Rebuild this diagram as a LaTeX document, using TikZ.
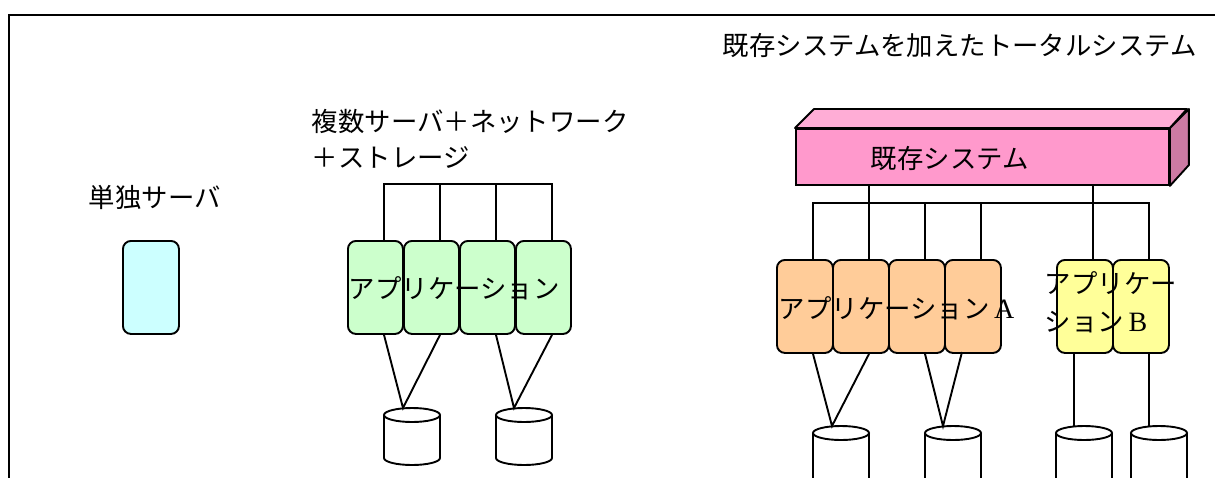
\documentclass[tikz,border=0pt]{standalone}
\usepackage{fontspec}
\newfontfamily\jp{Noto Sans CJK JP}
\newfontfamily\lat{Liberation Serif}
\definecolor{cyanF}{HTML}{CCFFFF}
\definecolor{greenF}{HTML}{CCFFCC}
\definecolor{orangeF}{HTML}{FFCC99}
\definecolor{yellowF}{HTML}{FFFF99}
\definecolor{pinkF}{HTML}{FF99CC}
\definecolor{pinkT}{HTML}{FFADD6}
\definecolor{pinkS}{HTML}{CC7AA3}
\begin{document}
\begin{tikzpicture}[x=1pt,y=-1pt,line width=1.9pt,
  srv/.style={draw,rounded corners=8pt,minimum width=55pt,minimum height=93pt,inner sep=0pt,anchor=north west},
  lbl/.style={anchor=base west,inner sep=0pt,font=\jp\fontsize{26.4}{30}\selectfont},
  disk/.pic={
    \draw[fill=white] (-28,0) -- (-28,#1) arc[start angle=180,end angle=0,x radius=28,y radius=7] -- (28,0);
    \draw[fill=white] (0,0) ellipse[x radius=28,y radius=7];
  },
  opendisk/.pic={
    \draw[fill=white] (-28,0) -- (-28,#1) (28,#1) -- (28,0);
    \draw[fill=white] (0,0) ellipse[x radius=28,y radius=7];
  }]
\useasboundingbox (0,0) rectangle (1215,477);
\clip (0,0) rectangle (1215,477);
% frame
\draw[line width=2.4pt] (9,480) -- (9,15) -- (1220,15);
\node[lbl] (title) at (722,55) {既存システムを加えたトータルシステム};

% single server
\node[lbl] (t1) at (88,207) {単独サーバ};
\node[srv,fill=cyanF,minimum width=56pt] (s0) at (122,240) {};

% multi servers
\node[lbl] (t2a) at (311,131) {複数サーバ＋ネットワーク};
\node[lbl] (t2b) at (311,167) {＋ストレージ};
\node[srv,fill=greenF] (g1) at (347,240) {};
\node[srv,fill=greenF] (g2) at (403,240) {};
\node[srv,fill=greenF] (g3) at (459,240) {};
\node[srv,fill=greenF] (g4) at (515,240) {};
\node[lbl] (gt) at (348,298) {アプリケーション};
\coordinate (gb1) at (384,184);
\coordinate (gb2) at (440,184);
\coordinate (gb3) at (496,184);
\coordinate (gb4) at (552,184);
\draw (gb1 |- g1.north) -- (gb1) -- (gb4) -- (gb4 |- g4.north);
\draw (gb2) -- (gb2 |- g2.north);
\draw (gb3) -- (gb3 |- g3.north);
\pic at (412,415) {disk=43};
\pic at (524,415) {disk=43};
\coordinate (dl1) at (403,408);
\coordinate (dl2) at (514,408);
\draw (gb1 |- g1.south) -- (dl1) -- (gb2 |- g2.south);
\draw (gb3 |- g3.south) -- (dl2) -- (gb4 |- g4.south);

% existing system
\node[draw,fill=pinkF,minimum width=373pt,minimum height=56pt,inner sep=0pt,anchor=north west] (ex) at (795,128) {};
\draw[fill=pinkT,line join=round] (ex.north west) -- ++(19,-19) -- ++(373,0) -- (ex.north east) -- cycle;
\draw[fill=pinkS,line join=round] (ex.north east) -- ++(19,-19) -- ++(0,56) -- (ex.south east) -- cycle;
\node[lbl] (ext) at (870,168) {既存システム};

\node[srv,fill=orangeF,minimum width=56pt] (o1) at (776,259) {};
\node[srv,fill=orangeF,minimum width=56pt] (o2) at (832,259) {};
\node[srv,fill=orangeF,minimum width=56pt] (o3) at (888,259) {};
\node[srv,fill=orangeF,minimum width=56pt] (o4) at (944,259) {};
\node[srv,fill=yellowF,minimum width=56pt] (y1) at (1056,259) {};
\node[srv,fill=yellowF,minimum width=56pt] (y2) at (1112,259) {};
\node[lbl] (ot) at (778,318) {アプリケーション\,{\lat\fontsize{28}{30}\selectfont A}};
\node[lbl] (yt1) at (1044,293) {アプリケー};
\node[lbl] (yt2) at (1044,331) {ション\,{\lat\fontsize{28}{30}\selectfont B}};

\coordinate (b1) at (813,203);
\coordinate (b2) at (869,203);
\coordinate (b3) at (925,203);
\coordinate (b4) at (981,203);
\coordinate (b5) at (1093,203);
\coordinate (b6) at (1149,203);
\draw (b1 |- o1.north) -- (b1) -- (b6) -- (b6 |- y2.north);
\draw (b2 |- ex.south) -- (b2 |- o2.north);
\draw (b3) -- (b3 |- o3.north);
\draw (b4) -- (b4 |- o4.north);
\draw (b5 |- ex.south) -- (b5 |- y1.north);

\pic at (841,433) {opendisk=60};
\pic at (953,433) {opendisk=60};
\pic at (1084,433) {opendisk=60};
\pic at (1159,433) {opendisk=60};
\coordinate (dr1) at (832,426);
\coordinate (dr2) at (943,426);
\coordinate (dr3) at (1074,427);
\coordinate (dr4) at (1149,427);
\draw (b1 |- o1.south) -- (dr1) -- (b2 |- o2.south);
\draw (b3 |- o3.south) -- (dr2) -- (962,352);
\draw (dr3 |- y1.south) -- (dr3);
\draw (dr4 |- y2.south) -- (dr4);
\end{tikzpicture}
\end{document}
